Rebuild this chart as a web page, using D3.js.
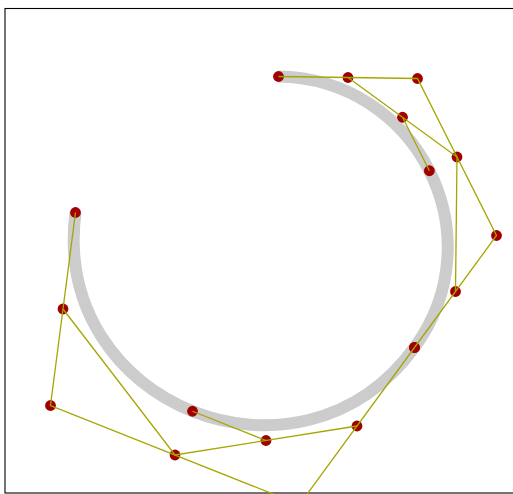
<!DOCTYPE html>
<html>
<head>
<meta charset="utf-8">
<script src="https://cdn.jsdelivr.net/npm/d3@7"></script>
<style>
  html, body { margin: 0; padding: 0; background: #fff; overflow: hidden; }
  svg { display: block; }
</style>
</head>
<body>
<script>
// Cubic Bézier segments (control points), split at t = 0.5
const segment1 = [[278, 76], [417, 78], [496, 235], [414, 347]];
const segment2 = [[414, 347], [299, 504], [50, 405], [75, 212]];
const segments = [segment1, segment2];
const splitT = 0.5;

const width = 513, height = 494;
const x = d3.scaleLinear().domain([0, width]).range([0.5, width + 0.5]);
const y = d3.scaleLinear().domain([0, height]).range([0.5, height + 0.5]);

const svg = d3.select("body").append("svg")
  .attr("width", width).attr("height", height);

// frame
svg.append("rect")
  .attr("x", 5).attr("y", 8.5)
  .attr("width", 540).attr("height", 484.5)
  .attr("fill", "none").attr("stroke", "#000").attr("stroke-width", 1.1);

const lerp = (a, b, t) => [a[0] + (b[0] - a[0]) * t, a[1] + (b[1] - a[1]) * t];

// gray curve
const p = d3.path();
segments.forEach((s, i) => {
  if (i === 0) p.moveTo(x(s[0][0]), y(s[0][1]));
  p.bezierCurveTo(x(s[1][0]), y(s[1][1]), x(s[2][0]), y(s[2][1]), x(s[3][0]), y(s[3][1]));
});
svg.append("path").attr("d", p.toString())
  .attr("fill", "none").attr("stroke", "#cccccc").attr("stroke-width", 12);

const dotsG = svg.append("g");
const linesG = svg.append("g");
const line = d3.line().x(d => x(d[0])).y(d => y(d[1]));

segments.forEach(s => {
  const q = [lerp(s[0], s[1], splitT), lerp(s[1], s[2], splitT), lerp(s[2], s[3], splitT)];
  const r = [lerp(q[0], q[1], splitT), lerp(q[1], q[2], splitT)];
  const pt = lerp(r[0], r[1], splitT);
  const polys = [s, q, [r[0], pt]];
  const dots = [...s, ...q, r[0], pt];
  dotsG.selectAll(null).data(dots).enter().append("circle")
    .attr("cx", d => x(d[0])).attr("cy", d => y(d[1]))
    .attr("r", 5.4).attr("fill", "#a00000");
  linesG.selectAll(null).data(polys).enter().append("path")
    .attr("d", line).attr("fill", "none")
    .attr("stroke", "#a6a600").attr("stroke-width", 1.3);
});
</script>
</body>
</html>
